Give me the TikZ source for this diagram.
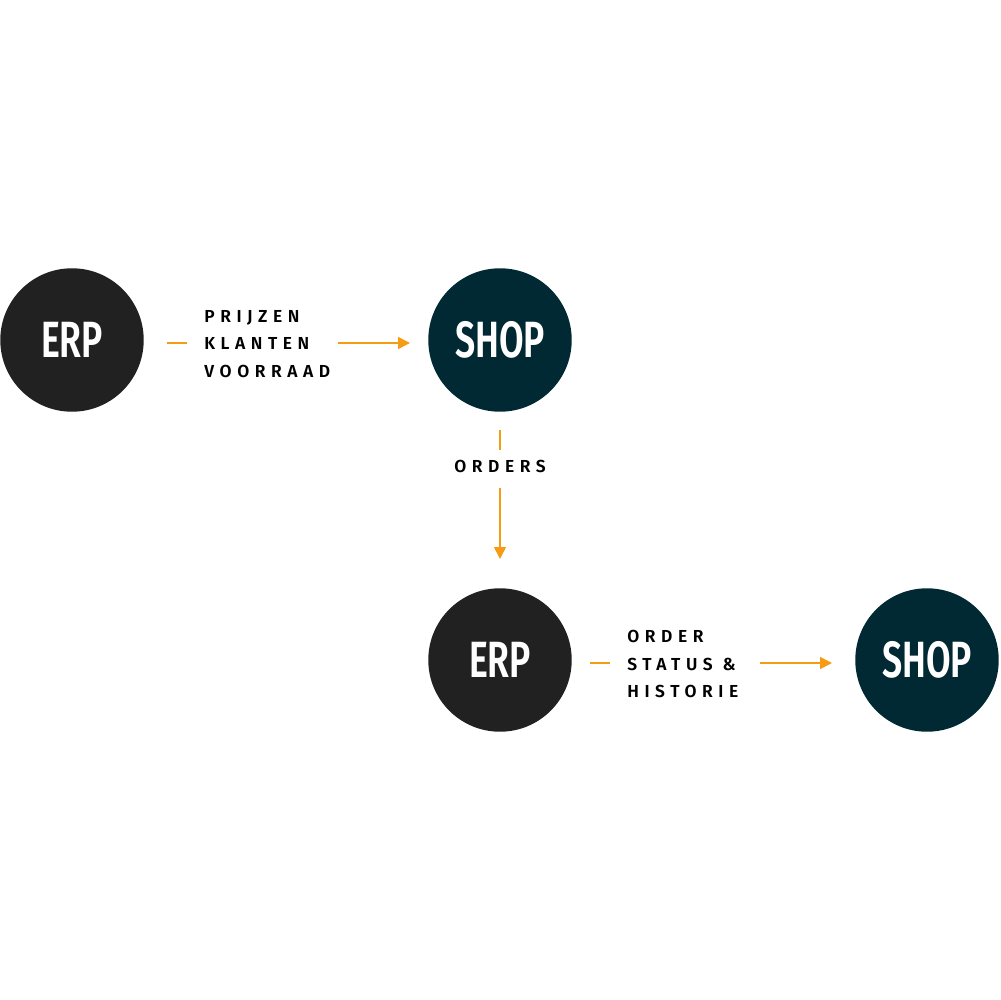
\documentclass[tikz,border=0pt]{standalone}
\usepackage{fontspec}
\usetikzlibrary{arrows.meta,calc}
\newfontfamily\lblfont[LetterSpace=32]{Fira Sans SemiBold}
\newfontfamily\circfont{Fira Sans SemiBold}
\definecolor{erpc}{RGB}{33,33,33}
\definecolor{shopc}{RGB}{1,41,51}
\definecolor{orng}{RGB}{246,155,20}
\tikzset{
  circ/.style={circle,minimum size=144*0.567pt,inner sep=0,text=white,font=\circfont\fontsize{29}{29}\selectfont},
  erpbox/.style={circ,fill=erpc},
  shopbox/.style={circ,fill=shopc},
  lbl/.style={inner sep=0,align=left,font=\lblfont\fontsize{9.9}{15.6}\selectfont},
  oline/.style={draw=orng,line width=0.9pt},
  oarrow/.style={oline,-{Triangle[length=6.8pt,width=6.8pt]}}
}
\newcommand{\cnd}[1]{\scalebox{0.7}[1]{#1}}
\begin{document}
\begin{tikzpicture}[x=0.02cm,y=-0.02cm]
\useasboundingbox (0,0) rectangle (1000,1000);
\node[erpbox] (erp1) at (72,340) {\cnd{ERP}};
\node[shopbox] (shop1) at (500,340) {\cnd{SHOP}};
\node[erpbox] (erp2) at (500,660) {\cnd{ERP}};
\node[shopbox] (shop2) at (927,660) {\cnd{SHOP}};
\node[lbl,anchor=west] (l1) at (204,344) {PRIJZEN\\KLANTEN\\VOORRAAD};
\node[lbl,anchor=center] (l2) at (500,466) {ORDERS};
\node[lbl,anchor=west] (l3) at (627,664) {ORDER\\STATUS \&\\HISTORIE};
\coordinate (a1) at (167,343); \coordinate (a2) at (187,343);
\coordinate (a3) at (338,343); \coordinate (a4) at (410,343);
\draw[oline] (a1) -- (a2);
\draw[oarrow] (a3) -- (a4);
\coordinate (b1) at (500,430); \coordinate (b2) at (500,450);
\coordinate (b3) at (500,488); \coordinate (b4) at (500,559);
\draw[oline] (b1) -- (b2);
\draw[oarrow] (b3) -- (b4);
\coordinate (c1) at (590,663); \coordinate (c2) at (610,663);
\coordinate (c3) at (760,663); \coordinate (c4) at (832,663);
\draw[oline] (c1) -- (c2);
\draw[oarrow] (c3) -- (c4);
\end{tikzpicture}
\end{document}
